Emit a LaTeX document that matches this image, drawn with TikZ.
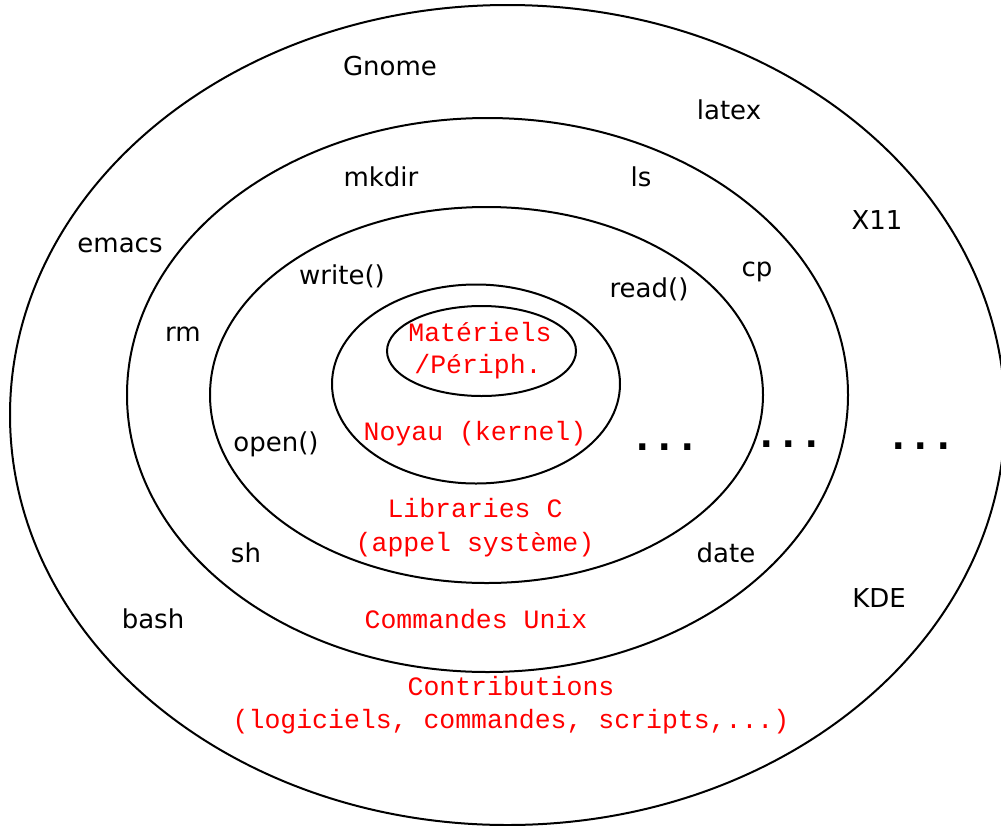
\documentclass[tikz,border=0pt]{standalone}
\usepackage{fontspec}
\setmainfont{DejaVu Sans}
\newfontfamily\monofont{Liberation Mono}
\newfontfamily\dotfont{DejaVu Sans Mono}[BoldFont={DejaVu Sans Mono Bold}]
\begin{document}
\begin{tikzpicture}[x=1pt,y=-1pt,
  ring/.style={draw=black,line width=2pt},
  lbl/.style={anchor=base,inner sep=0pt,font=\fontsize{26}{30}\selectfont},
  redlbl/.style={anchor=base,inner sep=0pt,text=red,font=\monofont\fontsize{26.5}{32}\selectfont},
  dotslbl/.style={anchor=base,inner sep=0pt,font=\dotfont\bfseries\fontsize{37.4}{40}\selectfont}]
\useasboundingbox (0,0) rectangle (1001,825);
% nested rings
\draw[ring] (507.5,415) ellipse [x radius=497.5, y radius=410];
\draw[ring] (487.5,395) ellipse [x radius=360.5, y radius=277];
\draw[ring] (486.5,395) ellipse [x radius=276.5, y radius=188];
\draw[ring] (476,384) ellipse [x radius=144, y radius=99.5];
\draw[ring] (481.5,351) ellipse [x radius=94.5, y radius=45];
% black labels
\node[lbl] (gnome) at (390,75) {Gnome};
\node[lbl] (latex) at (729,119) {latex};
\node[lbl] (mkdir) at (381,186) {mkdir};
\node[lbl] (ls) at (641,186) {ls};
\node[lbl] (x11) at (877,229) {X11};
\node[lbl] (emacs) at (120,252) {emacs};
\node[lbl] (cp) at (757,276) {cp};
\node[lbl] (write) at (342,284) {write()};
\node[lbl] (read) at (649,297) {read()};
\node[lbl] (rm) at (183,341) {rm};
\node[lbl] (open) at (276,451) {open()};
\node[lbl] (sh) at (246,562) {sh};
\node[lbl] (date) at (726,562) {date};
\node[lbl] (kde) at (879,607) {KDE};
\node[lbl] (bash) at (153,628) {bash};
% red labels
\node[redlbl] (mat) at (480,341) {Matériels};
\node[redlbl] (periph) at (478,373) {/Périph.};
\node[redlbl] (noyau) at (475,440) {Noyau (kernel)};
\node[redlbl] (libc) at (475,517) {Libraries C};
\node[redlbl] (appel) at (475,551) {(appel système)};
\node[redlbl] (cmd) at (476,628) {Commandes Unix};
\node[redlbl] (contrib) at (511,695) {Contributions};
\node[redlbl] (logi) at (511,728) {(logiciels, commandes, scripts,...)};
% dots
\node[dotslbl] (dotsA) at (665,450) {...};
\node[dotslbl] (dotsB) at (789,447) {...};
\node[dotslbl] (dotsC) at (921,449) {...};
\end{tikzpicture}
\end{document}
